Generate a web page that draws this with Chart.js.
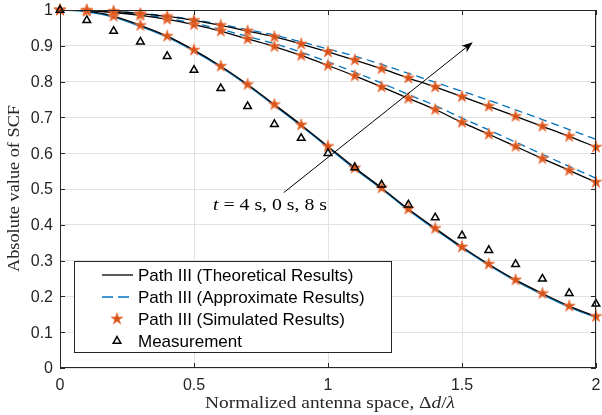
<!DOCTYPE html>
<html>
<head>
<meta charset="utf-8">
<script src="https://cdn.jsdelivr.net/npm/chart.js@4.4.1/dist/chart.umd.min.js"></script>
<style>
  html, body { margin: 0; padding: 0; background: #ffffff; }
  #wrap { width: 602px; height: 415px; }
</style>
</head>
<body>
<div id="wrap"><canvas id="c" width="602" height="415"></canvas></div>
<script>
// ---------------- data ----------------
const spacing = [0, 0.1, 0.2, 0.3, 0.4, 0.5, 0.6, 0.7, 0.8, 0.9, 1.0, 1.1, 1.2, 1.3, 1.4, 1.5, 1.6, 1.7, 1.8, 1.9, 2.0];

// theoretical
const theory8s = [1.000, 0.999, 0.996, 0.990, 0.982, 0.971, 0.957, 0.941, 0.925, 0.905, 0.883, 0.860, 0.836, 0.810, 0.785, 0.758, 0.731, 0.703, 0.675, 0.647, 0.617];
const theory0s = [1.000, 0.998, 0.993, 0.985, 0.974, 0.959, 0.941, 0.919, 0.898, 0.873, 0.845, 0.816, 0.785, 0.753, 0.722, 0.686, 0.653, 0.619, 0.585, 0.552, 0.519];
const theory4s = [1.000, 0.997, 0.983, 0.957, 0.927, 0.888, 0.843, 0.792, 0.736, 0.679, 0.619, 0.559, 0.503, 0.444, 0.390, 0.338, 0.290, 0.246, 0.208, 0.173, 0.144];

// approximate
const approx8s = [1.000, 0.999, 0.996, 0.991, 0.983, 0.973, 0.960, 0.945, 0.930, 0.911, 0.891, 0.871, 0.848, 0.823, 0.798, 0.773, 0.748, 0.721, 0.694, 0.666, 0.639];
const approx0s = [1.000, 0.998, 0.994, 0.987, 0.977, 0.963, 0.946, 0.926, 0.906, 0.882, 0.855, 0.826, 0.796, 0.764, 0.733, 0.698, 0.665, 0.631, 0.597, 0.563, 0.530];
const approx4s = [1.000, 0.995, 0.980, 0.954, 0.924, 0.885, 0.840, 0.789, 0.733, 0.676, 0.616, 0.556, 0.500, 0.441, 0.387, 0.335, 0.287, 0.243, 0.205, 0.170, 0.141];

// simulated
const sim8s = [1.000, 0.999, 0.996, 0.990, 0.982, 0.971, 0.957, 0.941, 0.925, 0.905, 0.883, 0.860, 0.836, 0.810, 0.785, 0.758, 0.731, 0.703, 0.675, 0.647, 0.617];
const sim0s = [1.000, 0.998, 0.993, 0.985, 0.974, 0.959, 0.941, 0.919, 0.898, 0.873, 0.845, 0.816, 0.785, 0.753, 0.722, 0.686, 0.653, 0.619, 0.585, 0.552, 0.519];
const sim4s = [1.000, 0.997, 0.983, 0.957, 0.927, 0.888, 0.843, 0.792, 0.736, 0.679, 0.619, 0.559, 0.503, 0.444, 0.390, 0.338, 0.290, 0.246, 0.208, 0.173, 0.144];

// measurement
const measured = [1.000, 0.971, 0.941, 0.911, 0.871, 0.832, 0.781, 0.731, 0.681, 0.642, 0.600, 0.560, 0.512, 0.456, 0.420, 0.370, 0.329, 0.290, 0.249, 0.209, 0.179];

const xTicks = [0, 0.5, 1, 1.5, 2];
const xTickLabels = ['0', '0.5', '1', '1.5', '2'];
const yTicks = [0, 0.1, 0.2, 0.3, 0.4, 0.5, 0.6, 0.7, 0.8, 0.9, 1];
const yTickLabels = ['0', '0.1', '0.2', '0.3', '0.4', '0.5', '0.6', '0.7', '0.8', '0.9', '1'];

const legendLabels = ['Path III (Theoretical Results)', 'Path III (Approximate Results)', 'Path III (Simulated Results)', 'Measurement'];
const annotationText = ['t', ' = 4 s, 0 s, 8 s'];
const arrowFrom = { x: 0.835, y: 0.490 };
const arrowTo = { x: 1.540, y: 0.910 };

// ---------------- styles ----------------
const BLACK = '#000000';
const BLUE = '#0072BD';
const ORANGE = '#D95319';
const AXIS = '#262626';
const GRID = '#e2e2e2';
const SANS = '"Liberation Sans", Arial, Helvetica, sans-serif';
const SERIF = '"Liberation Serif", "DejaVu Serif", serif';

function pts(arr) { return arr.map((v, i) => ({ x: spacing[i], y: v })); }

function makeStar(size, rOut) {
  const c = document.createElement('canvas');
  c.width = size; c.height = size;
  const g = c.getContext('2d');
  const cx = size / 2, cy = size / 2, rIn = rOut * 0.382;
  g.beginPath();
  for (let i = 0; i < 10; i++) {
    const r = i % 2 === 0 ? rOut : rIn;
    const a = -Math.PI / 2 + i * Math.PI / 5;
    const px = cx + r * Math.cos(a), py = cy + r * Math.sin(a);
    if (i === 0) g.moveTo(px, py); else g.lineTo(px, py);
  }
  g.closePath();
  g.fillStyle = ORANGE;
  g.fill();
  g.lineWidth = 0.8;
  g.strokeStyle = '#EE7A48';
  g.stroke();
  return c;
}
const starImg = makeStar(14, 6.2);

function lineDs(arr, color, dash, order) {
  return {
    data: pts(arr), borderColor: color, backgroundColor: color, borderWidth: 1.3,
    borderDash: dash, pointRadius: 0, showLine: true, fill: false,
    cubicInterpolationMode: 'monotone', order: order
  };
}
function starDs(arr) {
  return { data: pts(arr), showLine: false, pointStyle: starImg, pointRadius: 6, borderWidth: 0, order: 1, clip: 8 };
}

const datasets = [
  { data: pts(measured), showLine: false, pointStyle: 'triangle', pointRadius: 4.4,
    borderColor: BLACK, backgroundColor: 'rgba(0,0,0,0)', borderWidth: 1.5, order: 0, clip: 8 },
  starDs(sim8s), starDs(sim0s), starDs(sim4s),
  lineDs(theory8s, BLACK, [], 2), lineDs(theory0s, BLACK, [], 2), lineDs(theory4s, BLACK, [], 2),
  lineDs(approx8s, BLUE, [8, 5], 3), lineDs(approx0s, BLUE, [8, 5], 3), lineDs(approx4s, BLUE, [], 3)
];

// draw text stretched horizontally to a target width
function fitText(ctx, segments, x, y, target, size) {
  let total = 0;
  segments.forEach(s => { ctx.font = s[1] + size + 'px ' + SERIF; total += ctx.measureText(s[0]).width; });
  const sx = target / total;
  ctx.save();
  ctx.translate(x, y);
  ctx.scale(sx, 1);
  let cx = 0;
  segments.forEach(s => { ctx.font = s[1] + size + 'px ' + SERIF; ctx.fillText(s[0], cx, 0); cx += ctx.measureText(s[0]).width; });
  ctx.restore();
}

// ---------------- decorations plugin ----------------
const decor = {
  id: 'decor',
  afterDraw(chart) {
    const ctx = chart.ctx;
    const { left, top, right, bottom } = chart.chartArea;
    const xs = chart.scales.x, ys = chart.scales.y;
    ctx.save();

    // axes box
    ctx.strokeStyle = AXIS;
    ctx.lineWidth = 1;
    ctx.strokeRect(Math.round(left) + 0.5, Math.round(top) + 0.5, Math.round(right - left) - 1, Math.round(bottom - top) - 1);

    // inward ticks
    ctx.beginPath();
    xTicks.forEach(v => {
      const px = Math.round(xs.getPixelForValue(v)) + 0.5;
      ctx.moveTo(px, bottom); ctx.lineTo(px, bottom - 5);
      ctx.moveTo(px, top); ctx.lineTo(px, top + 5);
    });
    yTicks.forEach(v => {
      const py = Math.round(ys.getPixelForValue(v)) + 0.5;
      ctx.moveTo(left, py); ctx.lineTo(left + 5, py);
      ctx.moveTo(right, py); ctx.lineTo(right - 5, py);
    });
    ctx.stroke();

    // tick labels
    ctx.fillStyle = AXIS;
    ctx.font = '16px ' + SANS;
    ctx.textBaseline = 'middle';
    ctx.textAlign = 'center';
    xTicks.forEach((v, i) => ctx.fillText(xTickLabels[i], xs.getPixelForValue(v), 386));
    ctx.textAlign = 'right';
    yTicks.forEach((v, i) => ctx.fillText(yTickLabels[i], 53, ys.getPixelForValue(v) + 1));

    // arrow annotation
    const ax0 = xs.getPixelForValue(arrowFrom.x), ay0 = ys.getPixelForValue(arrowFrom.y);
    const ax1 = xs.getPixelForValue(arrowTo.x), ay1 = ys.getPixelForValue(arrowTo.y);
    const ang = Math.atan2(ay1 - ay0, ax1 - ax0);
    ctx.strokeStyle = '#000';
    ctx.lineWidth = 1;
    ctx.beginPath();
    ctx.moveTo(ax0, ay0);
    ctx.lineTo(ax1 - 6 * Math.cos(ang), ay1 - 6 * Math.sin(ang));
    ctx.stroke();
    ctx.translate(ax1, ay1);
    ctx.rotate(ang);
    ctx.beginPath();
    ctx.moveTo(0, 0);
    ctx.lineTo(-11, -4.2);
    ctx.lineTo(-8, 0);
    ctx.lineTo(-11, 4.2);
    ctx.closePath();
    ctx.fillStyle = '#000';
    ctx.fill();
    ctx.setTransform(1, 0, 0, 1, 0, 0);

    // annotation text
    ctx.fillStyle = '#000';
    ctx.textBaseline = 'alphabetic';
    ctx.textAlign = 'left';
    fitText(ctx, [[annotationText[0], 'italic '], [annotationText[1], '']], 213, 210, 114, 16);

    // axis titles
    ctx.fillStyle = AXIS;
    fitText(ctx, [['Normalized antenna space, \u0394', ''], ['d', 'italic '], ['/', ''], ['\u03bb', 'italic ']], 205, 408, 250, 16);

    ctx.save();
    ctx.translate(19, 272);
    ctx.rotate(-Math.PI / 2);
    fitText(ctx, [['Absolute value of SCF', '']], 0, 0, 167, 16);
    ctx.restore();

    // legend
    const L = 74, T = 261, R = 392, B = 353;
    ctx.fillStyle = '#fff';
    ctx.fillRect(L, T, R - L, B - T);
    ctx.strokeStyle = AXIS;
    ctx.lineWidth = 1;
    ctx.strokeRect(L + 0.5, T + 0.5, R - L - 1, B - T - 1);
    const rows = [275, 297, 319, 341];
    ctx.strokeStyle = BLACK; ctx.lineWidth = 1.3;
    ctx.beginPath(); ctx.moveTo(102, rows[0]); ctx.lineTo(133, rows[0]); ctx.stroke();
    ctx.strokeStyle = BLUE;
    ctx.setLineDash([11, 5]);
    ctx.beginPath(); ctx.moveTo(102, rows[1]); ctx.lineTo(133, rows[1]); ctx.stroke();
    ctx.setLineDash([]);
    ctx.drawImage(starImg, 117 - 7, rows[2] - 7);
    ctx.strokeStyle = BLACK; ctx.lineWidth = 1.5;
    const r = 4.4;
    ctx.beginPath();
    ctx.moveTo(117, rows[3] - r);
    ctx.lineTo(117 + r * Math.sin(2 * Math.PI / 3), rows[3] + r / 2);
    ctx.lineTo(117 - r * Math.sin(2 * Math.PI / 3), rows[3] + r / 2);
    ctx.closePath();
    ctx.stroke();
    ctx.fillStyle = '#000';
    ctx.font = '17px ' + SANS;
    ctx.textBaseline = 'middle';
    legendLabels.forEach((t, i) => ctx.fillText(t, 138, rows[i] + 1));

    ctx.restore();
  }
};

new Chart(document.getElementById('c'), {
  type: 'scatter',
  data: { datasets: datasets },
  options: {
    responsive: false,
    animation: false,
    devicePixelRatio: 1,
    layout: { padding: { left: 0, top: 10, right: 3, bottom: 0 } },
    plugins: { legend: { display: false }, tooltip: { enabled: false } },
    scales: {
      x: {
        type: 'linear', min: 0, max: 2,
        afterFit(s) { s.height = 47; s.paddingLeft = 0; s.paddingRight = 0; },
        afterBuildTicks(s) { s.ticks = xTicks.map(v => ({ value: v })); },
        grid: { color: GRID, lineWidth: 1, drawTicks: false },
        border: { display: false },
        ticks: { display: false }
      },
      y: {
        type: 'linear', min: 0, max: 1,
        afterFit(s) { s.width = 60; s.paddingTop = 0; s.paddingBottom = 0; },
        afterBuildTicks(s) { s.ticks = yTicks.map(v => ({ value: v })); },
        grid: { color: GRID, lineWidth: 1, drawTicks: false },
        border: { display: false },
        ticks: { display: false }
      }
    }
  },
  plugins: [decor]
});
</script>
</body>
</html>
